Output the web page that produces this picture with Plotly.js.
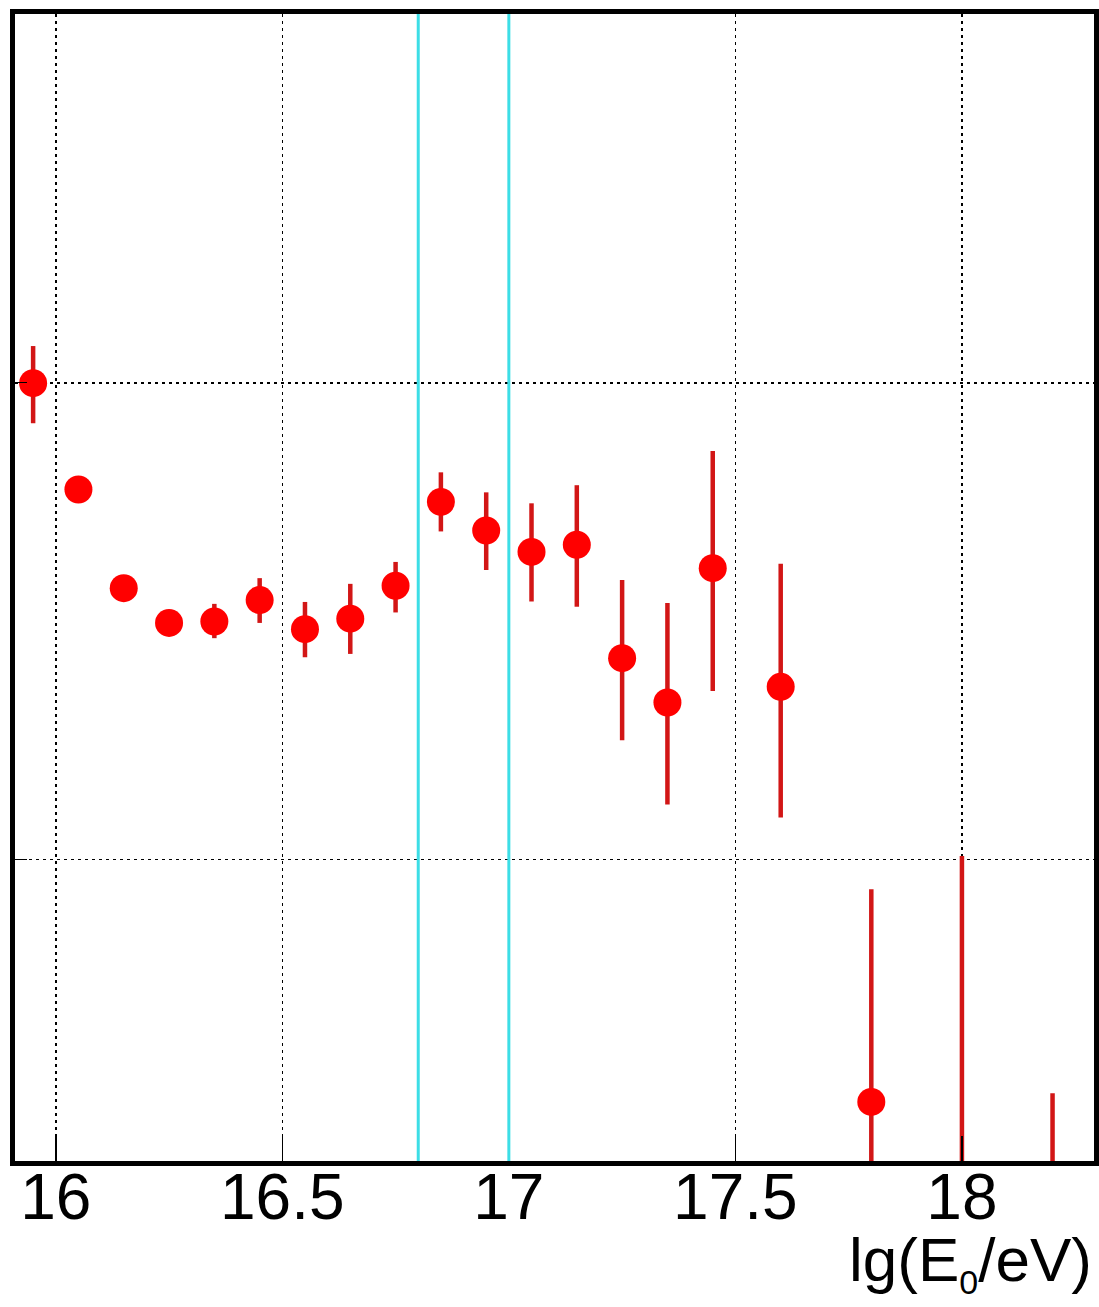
<!DOCTYPE html>
<html>
<head>
<meta charset="utf-8">
<script src="https://cdn.plot.ly/plotly-3.0.1.min.js"></script>
<style>
  html, body { margin: 0; padding: 0; background: #ffffff; }
  #chart { width: 1099px; height: 1307px; }
</style>
</head>
<body>
<div id="chart"></div>
<script>
// Energy bins, lg(E0/eV)
const lgE = [15.95, 16.05, 16.15, 16.25, 16.35, 16.45, 16.55, 16.65, 16.75, 16.85,
             16.95, 17.05, 17.15, 17.25, 17.35, 17.45, 17.60, 17.80, 18.00, 18.20];
// Measured values per bin
const val = [1.999, 1.776, 1.569, 1.496, 1.499, 1.544, 1.483, 1.505, 1.574, 1.750,
             1.690, 1.645, 1.660, 1.422, 1.329, 1.611, 1.362, 0.491, 0.000, 0.000];
// Upper and lower uncertainties
const errUp = [0.078, 0.020, 0.020, 0.020, 0.037, 0.046, 0.057, 0.073, 0.050, 0.062,
               0.080, 0.102, 0.125, 0.164, 0.209, 0.246, 0.258, 0.446, 1.007, 0.509];
const errDown = [0.084, 0.020, 0.020, 0.020, 0.035, 0.048, 0.059, 0.074, 0.056, 0.062,
                 0.083, 0.104, 0.130, 0.172, 0.214, 0.258, 0.274, 0.450, 1.007, 0.509];
// Energy interval boundaries marked with vertical lines
const bandEdges = [16.8, 17.0];
// Axis tick values and labels
const xTickVals = [16, 16.5, 17, 17.5, 18];
const xTickText = ['16', '16.5', '17', '17.5', '18'];
const yTickVals = [1, 2];

const points = {
  type: 'scatter',
  mode: 'markers',
  x: lgE,
  y: val,
  marker: { color: 'rgb(255,0,0)', size: 28, line: { width: 0 } },
  error_y: {
    type: 'data',
    symmetric: false,
    array: errUp,
    arrayminus: errDown,
    color: 'rgb(210,22,22)',
    thickness: 4.5,
    width: 0
  },
  cliponaxis: true,
  showlegend: false,
  hoverinfo: 'x+y'
};

const shapes = bandEdges.map(v => ({
  type: 'line', xref: 'x', yref: 'paper',
  x0: v, x1: v, y0: 0, y1: 1,
  line: { color: 'rgb(60,222,230)', width: 3 },
  layer: 'above'
}));

const layout = {
  width: 1099,
  height: 1307,
  margin: { l: 15, r: 5, t: 14, b: 146, pad: 0 },
  paper_bgcolor: '#ffffff',
  plot_bgcolor: '#ffffff',
  font: { family: 'Liberation Sans, Arial, sans-serif', color: '#000000' },
  xaxis: {
    range: [15.910, 18.2915],
    tickvals: xTickVals,
    ticktext: xTickText,
    ticks: 'inside',
    ticklen: 25,
    tickwidth: 1.5,
    tickcolor: '#000000',
    ticklabelstandoff: -24,
    tickfont: { size: 64, family: 'Liberation Sans, Arial, sans-serif', color: '#000000' },
    showline: true,
    linecolor: '#000000',
    linewidth: 5,
    mirror: true,
    showgrid: true,
    gridcolor: '#000000',
    gridwidth: 1.6,
    griddash: '3px,4px',
    zeroline: false
  },
  yaxis: {
    range: [0.367, 2.7737],
    tickvals: yTickVals,
    showticklabels: false,
    ticks: 'inside',
    ticklen: 12,
    tickwidth: 1.5,
    tickcolor: '#000000',
    showline: true,
    linecolor: '#000000',
    linewidth: 5,
    mirror: true,
    showgrid: true,
    gridcolor: '#000000',
    gridwidth: 1.6,
    griddash: '3px,4px',
    zeroline: false
  },
  shapes: shapes,
  annotations: [{
    text: 'lg(E<sub><span style="font-size:34px">0</span></sub>/eV)',
    xref: 'paper', yref: 'paper',
    x: 1, y: -0.124,
    xanchor: 'right', yanchor: 'bottom',
    showarrow: false,
    font: { size: 62, family: 'Liberation Sans, Arial, sans-serif', color: '#000000' }
  }]
};

Plotly.newPlot('chart', [points], layout, { staticPlot: true, displayModeBar: false });
</script>
</body>
</html>
